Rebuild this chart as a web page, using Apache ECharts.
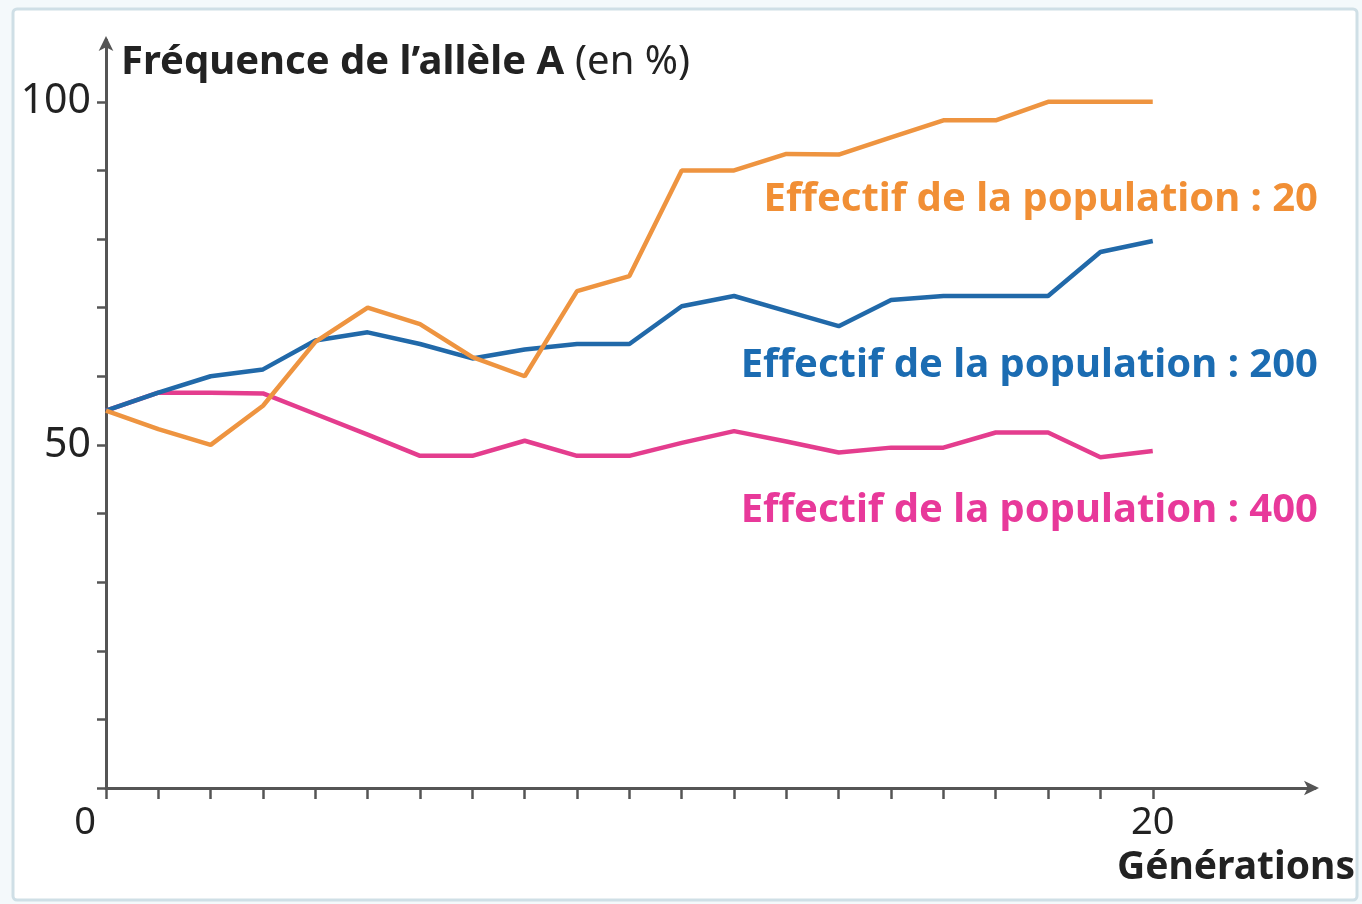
<!DOCTYPE html>
<html>
<head>
<meta charset="utf-8">
<title>Fréquence de l'allèle A</title>
<script src="https://cdn.jsdelivr.net/npm/echarts@6/dist/echarts.min.js"></script>
<style>
  html, body { margin: 0; padding: 0; background: #f4f9fb; }
  #main { width: 1362px; height: 904px; }
</style>
</head>
<body>
<div id="main"></div>
<script>
// generations 0..20
var generations = [0,1,2,3,4,5,6,7,8,9,10,11,12,13,14,15,16,17,18,19,20];
// frequence de l'allele A (%)
var pop20  = [55, 52.3, 50, 55.7, 65, 70, 67.6, 62.8, 60, 72.4, 74.6, 90, 90, 92.4, 92.3, 94.8, 97.3, 97.3, 100, 100, 100];
var pop200 = [55, 57.6, 60, 61, 65.2, 66.4, 64.7, 62.6, 63.9, 64.7, 64.7, 70.2, 71.7, 69.5, 67.3, 71.1, 71.7, 71.7, 71.7, 78.1, 79.7];
var pop400 = [55, 57.6, 57.6, 57.5, 54.5, 51.5, 48.4, 48.4, 50.6, 48.4, 48.4, 50.3, 52, 50.5, 48.9, 49.6, 49.6, 51.8, 51.8, 48.2, 49.1];

var seriesNames = ['Effectif de la population : 20', 'Effectif de la population : 200', 'Effectif de la population : 400'];
var lineColors = ['#ee9440', '#2169a9', '#e43d8e'];
var textColors = ['#f18f35', '#1b6cb2', '#e8399a'];

// graduations
var xTicks = generations;
var xLabels = [0, 20];
var yTicks = [0,10,20,30,40,50,60,70,80,90,100];
var yLabels = [50, 100];

var font = '"Noto Sans", "Open Sans", sans-serif';

function pairs(vals) {
  var out = [];
  for (var i = 0; i < vals.length; i++) out.push([generations[i], vals[i]]);
  return out;
}

var myChart = echarts.init(document.getElementById('main'));

var option = {
  backgroundColor: '#f4f9fb',
  animation: false,
  grid: { left: 106, right: 47, top: 40, bottom: 116 },
  xAxis: {
    type: 'value',
    min: 0,
    max: 23.1,
    axisLine: { show: true, symbol: ['none', 'arrow'], symbolSize: [11, 15], symbolOffset: [0, 4],
      lineStyle: { color: '#555', width: 3 } },
    axisTick: { show: true, customValues: xTicks, length: 11, inside: false,
      lineStyle: { color: '#555', width: 2.5 } },
    axisLabel: {
      customValues: xLabels,
      margin: 16,
      fontFamily: font, fontSize: 38, color: '#222',
      formatter: function (v) { return v === 0 ? '{z|0}' : String(v); },
      rich: { z: { fontFamily: font, fontSize: 38, color: '#222', padding: [0, 42, 0, 0] } }
    },
    splitLine: { show: false }
  },
  yAxis: {
    type: 'value',
    min: 0,
    max: 109,
    axisLine: { show: true, symbol: ['none', 'arrow'], symbolSize: [11, 15], symbolOffset: [0, 4],
      lineStyle: { color: '#555', width: 3 } },
    axisTick: { show: true, customValues: yTicks, length: 9,
      lineStyle: { color: '#555', width: 2.5 } },
    axisLabel: { customValues: yLabels, margin: 15, fontFamily: font, fontSize: 41, color: '#222' },
    splitLine: { show: false }
  },
  graphic: [
    { type: 'rect', silent: true, z: -10,
      shape: { x: 13, y: 9, width: 1344, height: 891, r: 4 },
      style: { fill: '#ffffff', stroke: '#cfdfe6', lineWidth: 3 } },
    { type: 'text', left: 121, top: 43,
      style: { text: '{b|Fréquence de l’allèle A}{n|(en %)}',
        rich: {
          b: { fontFamily: font, fontSize: 40, fontWeight: 'bold', fill: '#222' },
          n: { fontFamily: font, fontSize: 40, fill: '#222', padding: [0, 0, 0, 11] }
        } } },
    { type: 'text', right: 7, top: 848,
      style: { text: 'Générations', fontFamily: font, fontSize: 39, fontWeight: 'bold', fill: '#222' } },
    { type: 'text', right: 44, top: 180,
      style: { text: seriesNames[0], fontFamily: font, fontSize: 40, fontWeight: 'bold', fill: textColors[0] } },
    { type: 'text', right: 44, top: 346,
      style: { text: seriesNames[1], fontFamily: font, fontSize: 40, fontWeight: 'bold', fill: textColors[1] } },
    { type: 'text', right: 44, top: 491,
      style: { text: seriesNames[2], fontFamily: font, fontSize: 40, fontWeight: 'bold', fill: textColors[2] } }
  ],
  series: [
    { name: seriesNames[0], type: 'line', data: pairs(pop20), showSymbol: false,
      lineStyle: { color: lineColors[0], width: 4.5 }, z: 3 },
    { name: seriesNames[1], type: 'line', data: pairs(pop200), showSymbol: false,
      lineStyle: { color: lineColors[1], width: 4.5 }, z: 2 },
    { name: seriesNames[2], type: 'line', data: pairs(pop400), showSymbol: false,
      lineStyle: { color: lineColors[2], width: 4.5 }, z: 1 }
  ]
};

myChart.setOption(option);
</script>
</body>
</html>
